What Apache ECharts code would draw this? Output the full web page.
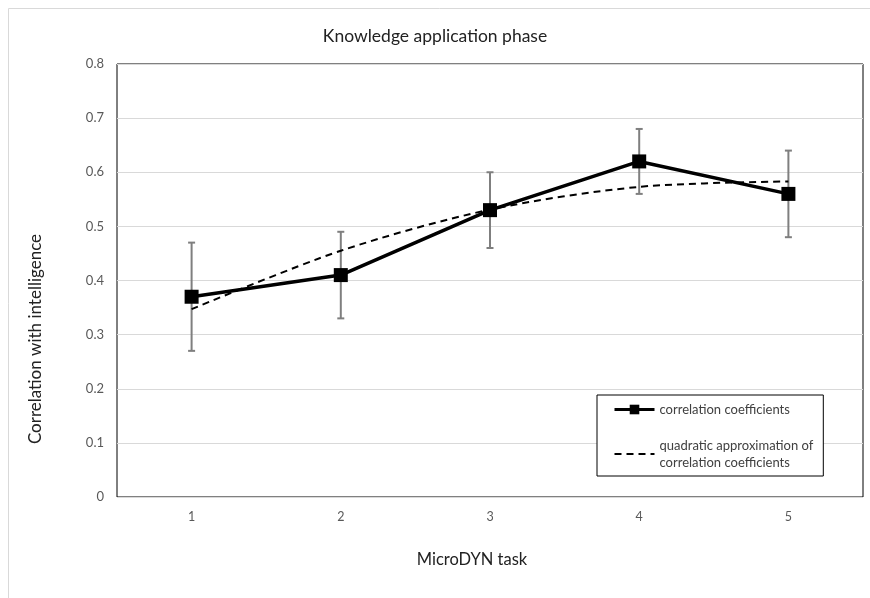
<!DOCTYPE html>
<html>
<head>
<meta charset="utf-8">
<script src="https://cdn.jsdelivr.net/npm/echarts@6/dist/echarts.min.js"></script>
<style>
    html, body { margin: 0; padding: 0; background: #fff; }
    #chart { width: 870px; height: 598px; }
</style>
</head>
<body>
<div id="chart"></div>
<script>
const TASKS = ['1', '2', '3', '4', '5'];
const CORRELATIONS = [0.37, 0.41, 0.53, 0.62, 0.56];
const ERR_LOW = [0.27, 0.33, 0.46, 0.56, 0.48];
const ERR_HIGH = [0.47, 0.49, 0.60, 0.68, 0.64];
const QUADRATIC = [0.347, 0.455, 0.531, 0.573, 0.583];
const Y_TICKS = [0, 0.1, 0.2, 0.3, 0.4, 0.5, 0.6, 0.7, 0.8];

const FONT = 'Lato, "Noto Sans", sans-serif';
const NAME_CORR = 'correlation coefficients';
const NAME_QUAD = 'quadratic approximation of correlation coefficients';

let chart = echarts.init(document.getElementById('chart'));

let errorData = TASKS.map(function (t, i) {
    return [i, ERR_LOW[i], ERR_HIGH[i]];
});

let option = {
    animation: false,
    textStyle: { fontFamily: FONT },
    title: {
        text: 'Knowledge application phase',
        left: 'center',
        top: 22,
        textStyle: { fontFamily: FONT, fontSize: 17.5, fontWeight: 'normal', color: '#222' }
    },
    graphic: [
        {
            type: 'rect',
            shape: { x: 8.5, y: 8.5, width: 900, height: 700 },
            style: { fill: 'none', stroke: '#d9d9d9', lineWidth: 1 },
            silent: true
        },
        {
            type: 'text',
            x: 36, y: 339,
            rotation: Math.PI / 2,
            style: {
                text: 'Correlation with intelligence',
                fontFamily: FONT, fontSize: 17, fill: '#222',
                align: 'center', verticalAlign: 'middle'
            }
        },
        {
            type: 'text',
            x: 472, y: 560,
            style: {
                text: 'MicroDYN task',
                fontFamily: FONT, fontSize: 16.5, fill: '#222',
                align: 'center', verticalAlign: 'middle'
            }
        }
    ],
    grid: {
        left: 117, right: 7, top: 64, bottom: 101,
        show: true, borderColor: '#000', borderWidth: 1,
        containLabel: false
    },
    legend: {
        orient: 'vertical',
        left: 597, top: 395,
        data: [
            { name: NAME_CORR, lineStyle: { width: 3 } },
            { name: NAME_QUAD, lineStyle: { width: 2 } }
        ],
        backgroundColor: '#fff',
        borderColor: '#000',
        borderWidth: 1,
        padding: [6, 10, 5, 16],
        itemGap: 19,
        itemWidth: 40,
        itemHeight: 12,
        formatter: function (name) {
            return name === NAME_QUAD ? 'quadratic approximation of\ncorrelation coefficients' : name;
        },
        textStyle: { fontFamily: FONT, fontSize: 13, color: '#404040', lineHeight: 17 }
    },
    xAxis: {
        type: 'category',
        data: TASKS,
        boundaryGap: true,
        axisLine: { show: false },
        axisTick: { show: false },
        axisLabel: { color: '#595959', fontSize: 12.5, fontFamily: FONT, margin: 13 },
        splitLine: { show: false }
    },
    yAxis: {
        type: 'value',
        min: Y_TICKS[0],
        max: Y_TICKS[Y_TICKS.length - 1],
        interval: 0.1,
        axisLine: { show: false },
        axisTick: { show: false },
        axisLabel: {
            color: '#595959', fontSize: 13, fontFamily: FONT, margin: 13,
            formatter: function (v) { return v === 0 ? '0' : v.toFixed(1); }
        },
        splitLine: { lineStyle: { color: '#d9d9d9', width: 1 } }
    },
    series: [
        {
            name: 'error',
            type: 'custom',
            z: 1,
            data: errorData,
            encode: { x: 0, y: [1, 2] },
            renderItem: function (params, api) {
                let x = api.value(0);
                let lo = api.coord([x, api.value(1)]);
                let hi = api.coord([x, api.value(2)]);
                let cap = 3.5;
                let style = { stroke: '#7f7f7f', lineWidth: 2 };
                return {
                    type: 'group',
                    children: [
                        { type: 'line', shape: { x1: lo[0], y1: lo[1], x2: hi[0], y2: hi[1] }, style: style },
                        { type: 'line', shape: { x1: hi[0] - cap, y1: hi[1], x2: hi[0] + cap, y2: hi[1] }, style: style },
                        { type: 'line', shape: { x1: lo[0] - cap, y1: lo[1], x2: lo[0] + cap, y2: lo[1] }, style: style }
                    ]
                };
            }
        },
        {
            name: NAME_QUAD,
            type: 'line',
            z: 2,
            data: QUADRATIC,
            smooth: 0.3,
            symbol: 'none',
            lineStyle: { color: '#000', width: 2, type: [7, 5] },
            itemStyle: { color: 'rgba(0,0,0,0)' }
        },
        {
            name: NAME_CORR,
            type: 'line',
            z: 3,
            data: CORRELATIONS,
            symbol: 'rect',
            symbolSize: 14,
            lineStyle: { color: '#000', width: 3.5 },
            itemStyle: { color: '#000' }
        }
    ]
};
chart.setOption(option);

window.addEventListener('resize', function () {
    chart?.resize();
});
</script>
</body>
</html>
